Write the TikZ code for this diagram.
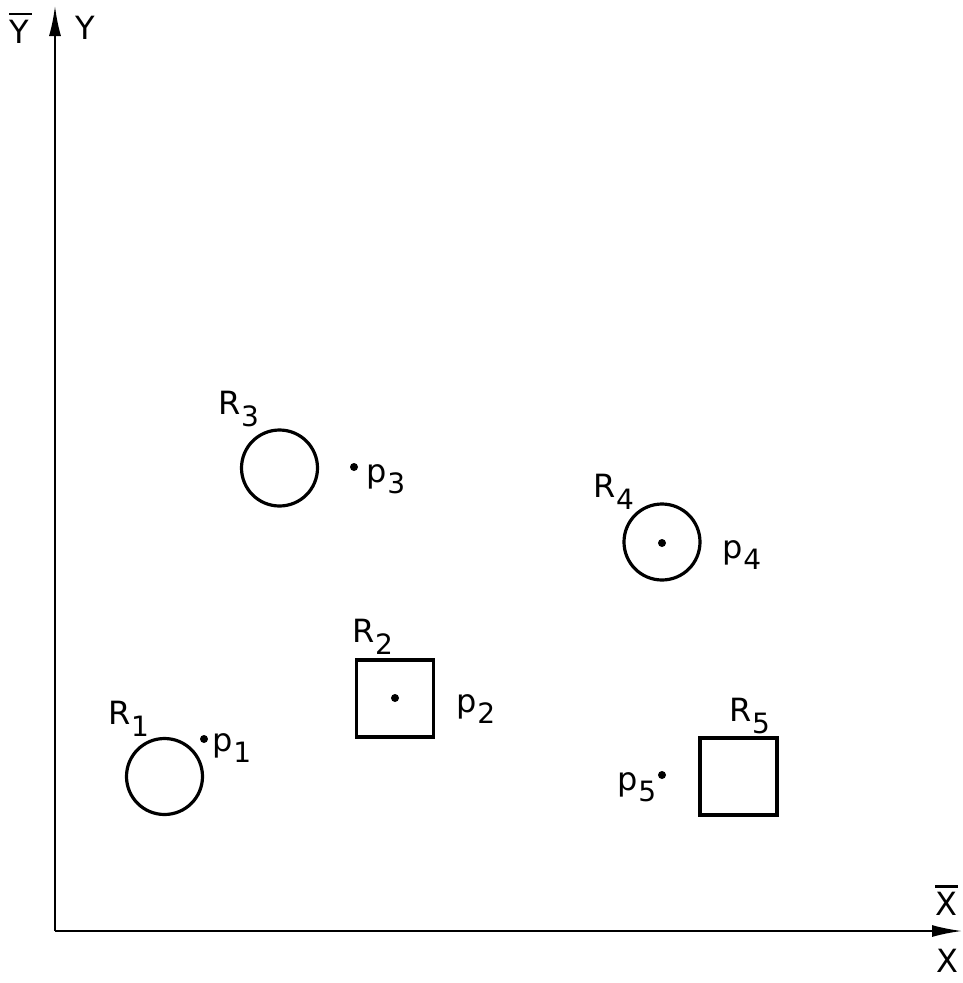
\documentclass[tikz,border=0pt]{standalone}
\usepackage{fontspec}
\setmainfont{DejaVu Sans}
\usetikzlibrary{arrows.meta}
\newcommand{\sbs}[1]{\raisebox{-0.36em}{\fontsize{28}{28}\selectfont #1}}
\newcommand{\barred}[1]{\makebox[0pt][l]{\raisebox{0.86em}{\rule{0.72em}{2.5pt}}}#1}
\tikzset{
  lbl/.style={font=\fontsize{32}{32}\selectfont, inner sep=0pt, anchor=center},
  ring/.style={draw, circle, line width=3.2pt, minimum size=76pt, inner sep=0pt},
  boxr/.style={draw, rectangle, line width=3.2pt, minimum size=77pt, inner sep=0pt},
  pt/.style={fill, circle, minimum size=8pt, inner sep=0pt},
  axis/.style={line width=2pt, -{Latex[length=30pt,width=12pt]}}
}
\begin{document}
\begin{tikzpicture}[x=1pt,y=-1pt]
\useasboundingbox (0,0) rectangle (963,983);
% axes
\coordinate (O) at (55,931);
\coordinate (Ytop) at (55,6);
\coordinate (Xend) at (962,931);
\draw[axis] (O) -- (Ytop);
\draw[axis] (O) -- (Xend);
\node[lbl] (Ybar) at (19,28) {\barred{Y}};
\node[lbl] (Ylab) at (85,28) {Y};
\node[lbl] (Xbar) at (946,900) {\barred{X}};
\node[lbl] (Xlab) at (947,961) {X};
% R1
\node[ring] (R1) at (164.5,776.5) {};
\node[lbl] (R1l) at (129,719) {R\sbs{1}};
\node[pt] (p1) at (204,739) {};
\node[lbl] (p1l) at (232,748) {p\sbs{1}};
% R2
\node[boxr] (R2) at (395,698.5) {};
\node[pt] (p2) at (395,698) {};
\node[lbl] (R2l) at (373,637) {R\sbs{2}};
\node[lbl] (p2l) at (476,709) {p\sbs{2}};
% R3
\node[ring] (R3) at (279.5,468) {};
\node[lbl] (R3l) at (239,409) {R\sbs{3}};
\node[pt] (p3) at (354,467) {};
\node[lbl] (p3l) at (386,479) {p\sbs{3}};
% R4
\node[ring] (R4) at (662,542) {};
\node[pt] (p4) at (662,543) {};
\node[lbl] (R4l) at (614,492) {R\sbs{4}};
\node[lbl] (p4l) at (742,555) {p\sbs{4}};
% R5
\node[boxr] (R5) at (738.5,776.5) {};
\node[lbl] (R5l) at (750,716) {R\sbs{5}};
\node[pt] (p5) at (662,775) {};
\node[lbl] (p5l) at (637,787) {p\sbs{5}};
\end{tikzpicture}
\end{document}
